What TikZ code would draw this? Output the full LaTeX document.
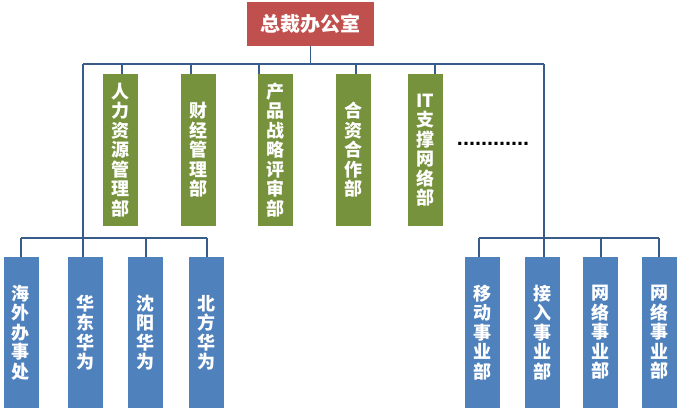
\documentclass[tikz,border=0pt]{standalone}
\usepackage{fontspec}
\newfontfamily\cjk{Noto Sans CJK SC}
\newfontfamily\lib{Liberation Sans}
\usetikzlibrary{calc}
\definecolor{topred}{RGB}{192,80,77}
\definecolor{deptgreen}{RGB}{118,146,60}
\definecolor{unitblue}{RGB}{79,129,189}
\definecolor{linkcol}{RGB}{56,93,138}
\tikzset{
  box/.style={rectangle, inner sep=0pt, text=white, align=center,
    font=\cjk\bfseries\fontsize{18}{19.5}\selectfont},
  topbox/.style={box, fill=topred, minimum width=127pt, minimum height=44pt,
    font=\cjk\bfseries\fontsize{20}{22}\selectfont},
  deptbox/.style={box, fill=deptgreen, minimum width=35pt, minimum height=152pt},
  unitbox/.style={box, fill=unitblue, minimum width=35pt, minimum height=151pt},
  link/.style={draw=linkcol, line width=1.8pt},
}
\begin{document}
\begin{tikzpicture}[x=1pt,y=-1pt]
\useasboundingbox[fill=white] (0,0) rectangle (680,411);
% top
\node[topbox] (top) at (310.5,24) {总裁办公室};
% departments
\node[deptbox] (g1) at (120,150) {人\\力\\资\\源\\管\\理\\部};
\node[deptbox] (g2) at (198,150) {财\\经\\管\\理\\部};
\node[deptbox] (g3) at (275.5,150) {产\\品\\战\\略\\评\\审\\部};
\node[deptbox] (g4) at (353.5,150) {合\\资\\合\\作\\部};
\node[deptbox] (g5) at (425.5,150) {IT\\支\\撑\\网\\络\\部};
\node[font=\lib\bfseries\fontsize{21.6}{24}\selectfont, inner sep=0pt, anchor=base] (dots) at (493,146) {............};
% units
\node[unitbox] (b1) at (21,332.5) {海\\外\\办\\事\\处};
\node[unitbox] (b2) at (85.5,332.5) {华\\东\\华\\为};
\node[unitbox] (b3) at (145.5,332.5) {沈\\阳\\华\\为};
\node[unitbox] (b4) at (206.5,332.5) {北\\方\\华\\为};
\node[unitbox] (b5) at (482.5,332.5) {移\\动\\事\\业\\部};
\node[unitbox] (b6) at (542.5,332.5) {接\\入\\事\\业\\部};
\node[unitbox] (b7) at (600.5,332.5) {网\\络\\事\\业\\部};
\node[unitbox] (b8) at (659,332.5) {网\\络\\事\\业\\部};
% bus coordinates
\coordinate (busL) at (83,64);
\coordinate (busR) at (544,64);
\coordinate (lowL) at (83,238);
\coordinate (lowR) at (544,238);
% tick anchor points on the box tops
\coordinate (t1) at ($(g1.north)+(2,0)$);
\coordinate (t2) at ($(g2.north)+(-7,0)$);
\coordinate (t3) at ($(g3.north west)+(1,0)$);
\coordinate (t4) at ($(g4.north)+(2.5,0)$);
\coordinate (t5) at ($(g5.north)+(9.5,0)$);
\coordinate (u1) at (b1.north);
\coordinate (u3) at ($(b3.north)+(0.5,0)$);
\coordinate (u4) at ($(b4.north)+(0.5,0)$);
\coordinate (u5) at ($(b5.north)+(-3.5,0)$);
\coordinate (u7) at ($(b7.north)+(0.5,0)$);
\coordinate (u8) at (b8.north);
% upper bus
\draw[link] (busL) -- (busR);
\draw[link] (top.south) -- (top.south |- busL);
\foreach \t in {t1,t2,t3,t4,t5} \draw[link] (\t) -- (\t |- busL);
% trunks
\draw[link] (busL) -- (busL |- b2.north);
\draw[link] (busR) -- (busR |- b6.north);
% lower left bus
\draw[link] (u1 |- lowL) -- (u4 |- lowL);
\foreach \u in {u1,u3,u4} \draw[link] (\u |- lowL) -- (\u);
% lower right bus
\draw[link] (u5 |- lowR) -- (u8 |- lowR);
\foreach \u in {u5,u7,u8} \draw[link] (\u |- lowR) -- (\u);
\end{tikzpicture}
\end{document}
